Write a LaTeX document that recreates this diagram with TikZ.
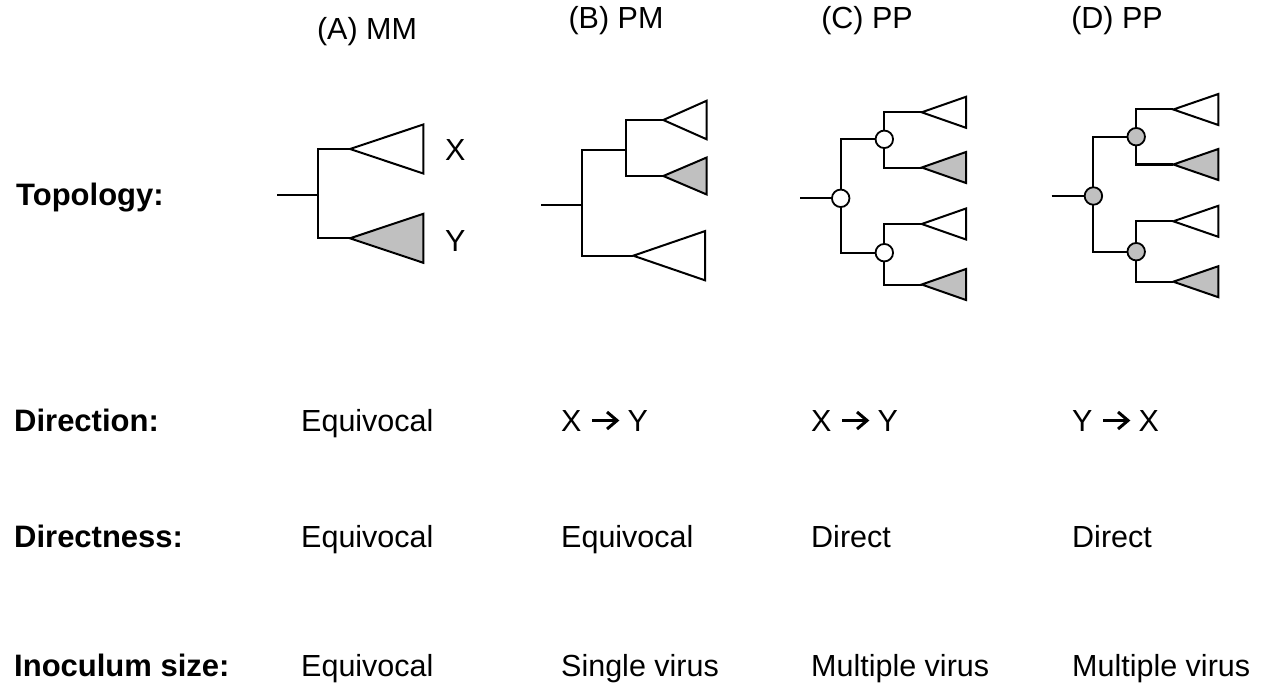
\documentclass[tikz,border=0pt]{standalone}
\usepackage{fontspec}
\setmainfont{Liberation Sans}
\definecolor{cladegray}{HTML}{C0C0C0}
% clade triangle: tip coordinate, length, half height, style
\newcommand\cladetri[4]{\draw[#4] (#1) -- ++(#2,-#3) -- ++(0,2*#3) -- cycle;}
% bold arrow used between the host labels
\newcommand\hostarrow{\hspace{9pt}\tikz[x=1pt,y=1pt,baseline=-10.5pt]{%
  \draw[line width=3pt] (0,0) -- (24,0);
  \draw[line width=3pt,line join=miter] (15,8.5) -- (25,0) -- (15,-8.5);}\hspace{9pt}}
\begin{document}
\begin{tikzpicture}[x=1pt,y=-1pt,
  branch/.style={line width=2pt,line join=miter},
  tri/.style={draw,line width=2pt,line join=miter,fill=white},
  trigray/.style={tri,fill=cladegray},
  nodeopen/.style={circle,draw,line width=1.8pt,fill=white,minimum size=17.5pt,inner sep=0pt},
  nodegray/.style={nodeopen,fill=cladegray},
  rowlabel/.style={anchor=base west,inner sep=0pt,font=\fontsize{31}{36}\selectfont\bfseries},
  cell/.style={anchor=base west,inner sep=0pt,font=\fontsize{30.5}{36}\selectfont},
  head/.style={anchor=base,inner sep=0pt,font=\fontsize{30.5}{36}\selectfont}]
\useasboundingbox (0,0) rectangle (1277,690);

% column headings
\node[head] (hA) at (367,40) {(A) MM};
\node[head] (hB) at (616,29) {(B) PM};
\node[head] (hC) at (867,29) {(C) PP};
\node[head] (hD) at (1117,29) {(D) PP};

% ---------- tree A ----------
\coordinate (aR) at (277,195.3);
\coordinate (a0) at (317.7,195.3);
\coordinate (aX) at (350,149);
\coordinate (aY) at (350,238.3);
\draw[branch] (aR) -- (a0);
\draw[branch] (aX) -| (a0) |- (aY);
\cladetri{aX}{73.3}{24.5}{tri}
\cladetri{aY}{73.3}{24.5}{trigray}
\node[cell,anchor=west] (lX) at (445,150) {X};
\node[cell,anchor=west] (lY) at (445,241) {Y};

% ---------- tree B ----------
\coordinate (bR) at (541,205);
\coordinate (b0) at (581.7,205);
\coordinate (b1) at (625.7,150);
\coordinate (bT1) at (663.3,120);
\coordinate (bT2) at (663.3,176);
\coordinate (bT3) at (633.3,255.7);
\draw[branch] (bR) -- (b0);
\draw[branch] (b1) -| (b0) |- (bT3);
\draw[branch] (bT1) -| (b1) |- (bT2);
\cladetri{bT1}{43.4}{19.3}{tri}
\cladetri{bT2}{43.4}{18.5}{trigray}
\cladetri{bT3}{71.7}{24.6}{tri}

% ---------- tree C ----------
\coordinate (cR) at (800,198.3);
\coordinate (c0) at (840.7,198.3);
\coordinate (c1) at (884.3,139.3);
\coordinate (c2) at (884.3,252.7);
\coordinate (cT1) at (921.7,112.3);
\coordinate (cT2) at (921.7,167.5);
\coordinate (cT3) at (921.7,224);
\coordinate (cT4) at (921.7,284.5);
\draw[branch] (cR) -- (c0);
\draw[branch] (c1) -| (c0) |- (c2);
\draw[branch] (cT1) -| (c1) |- (cT2);
\draw[branch] (cT3) -| (c2) |- (cT4);
\cladetri{cT1}{44.3}{15.5}{tri}
\cladetri{cT2}{44.3}{15.5}{trigray}
\cladetri{cT3}{44.3}{15.5}{tri}
\cladetri{cT4}{44.3}{15.5}{trigray}
\node[nodeopen] (cn0) at (c0) {};
\node[nodeopen] (cn1) at (c1) {};
\node[nodeopen] (cn2) at (c2) {};

% ---------- tree D ----------
\coordinate (dR) at (1051.7,196);
\coordinate (d0) at (1093.4,196);
\coordinate (d1) at (1136.2,136.7);
\coordinate (d2) at (1136.2,251.7);
\coordinate (dT1) at (1173.3,109.5);
\coordinate (dT2) at (1173.3,164.5);
\coordinate (dT3) at (1173.3,221.3);
\coordinate (dT4) at (1173.3,281.7);
\draw[branch] (dR) -- (d0);
\draw[branch] (d1) -| (d0) |- (d2);
\draw[branch] (dT1) -| (d1) |- (dT2);
\draw[branch] (dT3) -| (d2) |- (dT4);
\cladetri{dT1}{45}{15.5}{tri}
\cladetri{dT2}{45}{15.5}{trigray}
\cladetri{dT3}{45}{15.5}{tri}
\cladetri{dT4}{45}{15.5}{trigray}
\node[nodegray] (dn0) at (d0) {};
\node[nodegray] (dn1) at (d1) {};
\node[nodegray] (dn2) at (d2) {};

% ---------- rows ----------
\node[rowlabel] (rTop) at (16,205) {Topology:};
\node[rowlabel] (rDir) at (14,431) {Direction:};
\node[rowlabel] (rDis) at (14,547) {Directness:};
\node[rowlabel] (rIno) at (14,676) {Inoculum size:};

\node[cell] (dirA) at (301,431) {Equivocal};
\node[cell] (dirB) at (561,431) {X\hostarrow Y};
\node[cell] (dirC) at (811,431) {X\hostarrow Y};
\node[cell] (dirD) at (1072,431) {Y\hostarrow X};

\node[cell] (disA) at (301,547) {Equivocal};
\node[cell] (disB) at (561,547) {Equivocal};
\node[cell] (disC) at (811,547) {Direct};
\node[cell] (disD) at (1072,547) {Direct};

\node[cell] (inoA) at (301,676) {Equivocal};
\node[cell] (inoB) at (561,676) {Single virus};
\node[cell] (inoC) at (811,676) {Multiple virus};
\node[cell] (inoD) at (1072,676) {Multiple virus};
\end{tikzpicture}
\end{document}
